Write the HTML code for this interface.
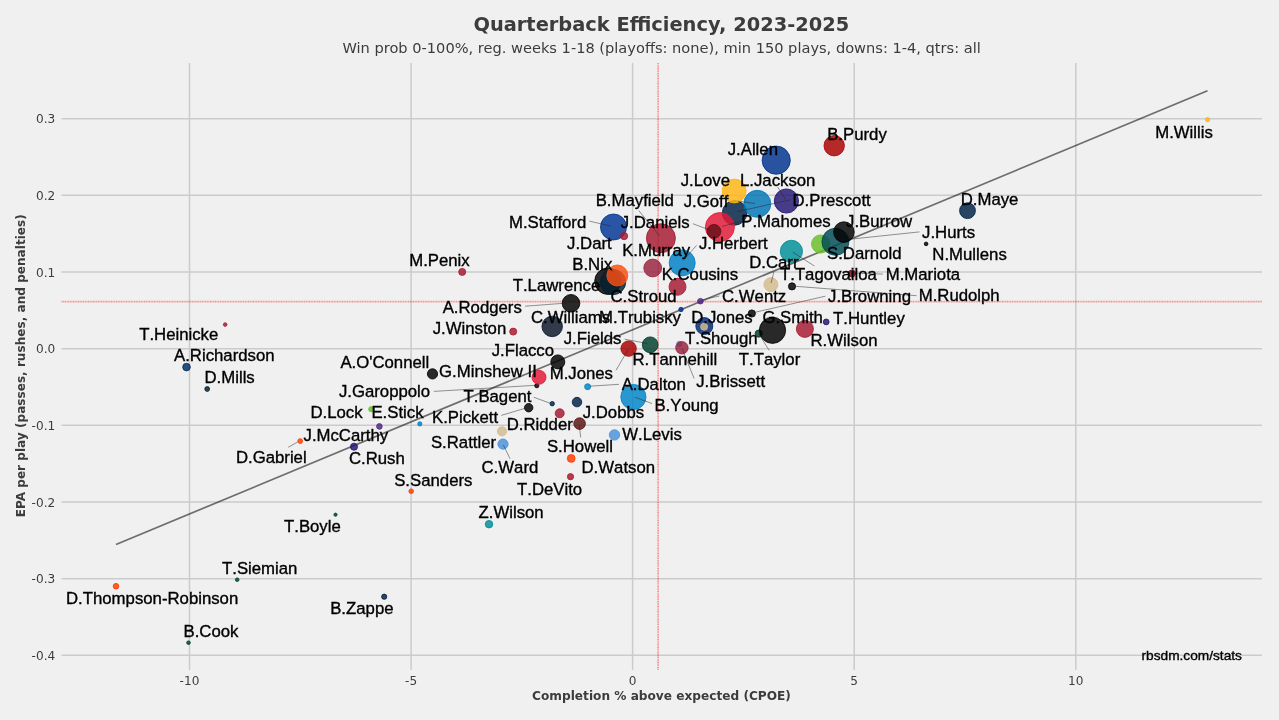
<!DOCTYPE html>
<html lang="en"><head><meta charset="utf-8"><title>Quarterback Efficiency, 2023-2025</title>
<style>html,body{margin:0;padding:0;background:#f0f0f0;overflow:hidden}svg{display:block}.t{font-family:"DejaVu Sans",sans-serif;fill:#3c3c3c}.l{font-family:"Liberation Sans",sans-serif;font-size:16.75px;fill:#000;stroke:#000;stroke-width:.35px;font-kerning:none}.g{stroke:#cbcbcb;stroke-width:1.5;fill:none}.c{stroke:#222;stroke-width:0.6;stroke-opacity:.8;fill:none}.r{stroke:#ff0000;stroke-width:1.7;stroke-opacity:.4;stroke-dasharray:1.1 0.55;fill:none}</style></head><body>
<svg width="1279" height="720" viewBox="0 0 1279 720">
<rect width="1279" height="720" fill="#f0f0f0"/>
<g class="g">
<line x1="189.5" y1="63.0" x2="189.5" y2="670.0"/>
<line x1="411.1" y1="63.0" x2="411.1" y2="670.0"/>
<line x1="632.6" y1="63.0" x2="632.6" y2="670.0"/>
<line x1="854.2" y1="63.0" x2="854.2" y2="670.0"/>
<line x1="1075.8" y1="63.0" x2="1075.8" y2="670.0"/>
<line x1="61.5" y1="655.35" x2="1262.0" y2="655.35"/>
<line x1="61.5" y1="578.68" x2="1262.0" y2="578.68"/>
<line x1="61.5" y1="502.01" x2="1262.0" y2="502.01"/>
<line x1="61.5" y1="425.35" x2="1262.0" y2="425.35"/>
<line x1="61.5" y1="348.68" x2="1262.0" y2="348.68"/>
<line x1="61.5" y1="272.01" x2="1262.0" y2="272.01"/>
<line x1="61.5" y1="195.35" x2="1262.0" y2="195.35"/>
<line x1="61.5" y1="118.68" x2="1262.0" y2="118.68"/>
</g>
<line class="r" x1="61.5" y1="301.6" x2="1262.0" y2="301.6"/>
<line class="r" x1="658.1" y1="63.0" x2="658.1" y2="670.0"/>
<g class="t" font-size="12.1" text-anchor="end">
<text x="55.2" y="659.8">-0.4</text>
<text x="55.2" y="583.2">-0.3</text>
<text x="55.2" y="506.5">-0.2</text>
<text x="55.2" y="429.8">-0.1</text>
<text x="55.2" y="353.2">0.0</text>
<text x="55.2" y="276.5">0.1</text>
<text x="55.2" y="199.8">0.2</text>
<text x="55.2" y="123.2">0.3</text>
</g>
<g class="t" font-size="12.1" text-anchor="middle">
<text x="189.5" y="685.2">-10</text>
<text x="411.1" y="685.2">-5</text>
<text x="632.6" y="685.2">0</text>
<text x="854.2" y="685.2">5</text>
<text x="1075.8" y="685.2">10</text>
</g>
<line x1="116" y1="544.5" x2="1207.5" y2="90.8" stroke="#000" stroke-opacity=".55" stroke-width="1.7"/>
<g fill-opacity=".83" stroke-opacity=".83" stroke-width="1">
<circle cx="1207.6" cy="119.7" r="2.20" fill="#FFB612" stroke="#FFB612"/>
<circle cx="225.2" cy="324.6" r="1.80" fill="#A71930" stroke="#A71930"/>
<circle cx="186.5" cy="367.1" r="3.80" fill="#002C5F" stroke="#002C5F"/>
<circle cx="207.2" cy="389.0" r="2.40" fill="#03202F" stroke="#03202F"/>
<circle cx="116.0" cy="586.2" r="2.80" fill="#FF3C00" stroke="#FF3C00"/>
<circle cx="188.5" cy="642.7" r="1.80" fill="#003F2D" stroke="#003F2D"/>
<circle cx="237.2" cy="579.7" r="1.80" fill="#003F2D" stroke="#003F2D"/>
<circle cx="335.5" cy="514.7" r="1.60" fill="#003F2D" stroke="#003F2D"/>
<circle cx="384.2" cy="596.7" r="2.60" fill="#002244" stroke="#002244"/>
<circle cx="411.2" cy="491.2" r="2.30" fill="#FF3C00" stroke="#FF3C00"/>
<circle cx="300.2" cy="441.1" r="2.40" fill="#FF3C00" stroke="#FF3C00"/>
<circle cx="354.0" cy="446.7" r="3.55" fill="#241773" stroke="#241773"/>
<circle cx="379.4" cy="426.4" r="2.80" fill="#4F2683" stroke="#4F2683"/>
<circle cx="371.3" cy="409.2" r="2.60" fill="#69BE28" stroke="#69BE28"/>
<circle cx="419.8" cy="423.9" r="2.10" fill="#0080C6" stroke="#0080C6"/>
<circle cx="432.5" cy="373.9" r="5.10" fill="#000000" stroke="#000000"/>
<circle cx="489.0" cy="524.2" r="3.75" fill="#008E97" stroke="#008E97"/>
<circle cx="502.0" cy="431.3" r="4.60" fill="#D3BC8D" stroke="#D3BC8D"/>
<circle cx="503.0" cy="444.1" r="5.10" fill="#4B92DB" stroke="#4B92DB"/>
<circle cx="614.5" cy="434.9" r="5.20" fill="#4B92DB" stroke="#4B92DB"/>
<circle cx="571.2" cy="458.4" r="3.90" fill="#FF3C00" stroke="#FF3C00"/>
<circle cx="570.5" cy="476.7" r="3.10" fill="#A71930" stroke="#A71930"/>
<circle cx="579.6" cy="423.6" r="5.80" fill="#5A1414" stroke="#5A1414"/>
<circle cx="559.7" cy="413.3" r="4.50" fill="#A71930" stroke="#A71930"/>
<circle cx="528.7" cy="407.7" r="4.20" fill="#000000" stroke="#000000"/>
<circle cx="552.2" cy="403.7" r="2.20" fill="#002244" stroke="#002244"/>
<circle cx="577.0" cy="402.1" r="4.75" fill="#002244" stroke="#002244"/>
<circle cx="587.6" cy="386.7" r="3.00" fill="#0085CA" stroke="#0085CA"/>
<circle cx="633.4" cy="397.0" r="12.60" fill="#0085CA" stroke="#0085CA"/>
<circle cx="536.8" cy="385.7" r="2.10" fill="#000000" stroke="#000000"/>
<circle cx="539.0" cy="377.3" r="7.00" fill="#E31837" stroke="#E31837"/>
<circle cx="557.8" cy="361.9" r="7.00" fill="#000000" stroke="#000000"/>
<circle cx="513.2" cy="331.6" r="3.50" fill="#A71930" stroke="#A71930"/>
<circle cx="552.2" cy="326.4" r="10.25" fill="#0B162A" stroke="#0B162A"/>
<circle cx="571.0" cy="303.3" r="8.80" fill="#000000" stroke="#000000"/>
<circle cx="462.2" cy="271.9" r="3.50" fill="#A71930" stroke="#A71930"/>
<circle cx="607.9" cy="281.2" r="13.20" fill="#000000" stroke="#000000"/>
<circle cx="613.0" cy="282.0" r="12.70" fill="#03202F" stroke="#03202F"/>
<circle cx="617.3" cy="275.5" r="10.50" fill="#FB4F14" stroke="#FB4F14"/>
<circle cx="613.5" cy="227.0" r="13.00" fill="#003594" stroke="#003594"/>
<circle cx="624.1" cy="236.1" r="3.60" fill="#A71930" stroke="#A71930"/>
<circle cx="660.9" cy="238.2" r="14.50" fill="#A71930" stroke="#A71930"/>
<circle cx="652.7" cy="268.0" r="8.90" fill="#97233F" stroke="#97233F"/>
<circle cx="682.2" cy="262.9" r="13.00" fill="#0080C6" stroke="#0080C6"/>
<circle cx="677.5" cy="286.8" r="8.50" fill="#A71930" stroke="#A71930"/>
<circle cx="628.6" cy="348.6" r="7.70" fill="#AA0000" stroke="#AA0000"/>
<circle cx="650.2" cy="344.8" r="7.90" fill="#003F2D" stroke="#003F2D"/>
<circle cx="679.3" cy="344.0" r="2.70" fill="#4B92DB" stroke="#4B92DB"/>
<circle cx="681.9" cy="347.8" r="6.20" fill="#97233F" stroke="#97233F"/>
<circle cx="681.0" cy="309.5" r="2.20" fill="#00338D" stroke="#00338D"/>
<circle cx="700.4" cy="301.2" r="2.80" fill="#4F2683" stroke="#4F2683"/>
<circle cx="704.3" cy="326.1" r="8.50" fill="#002870" stroke="#002870"/>
<circle cx="704.1" cy="326.7" r="3.50" fill="#D3BC8D" stroke="#D3BC8D"/>
<circle cx="751.8" cy="313.5" r="3.60" fill="#000000" stroke="#000000"/>
<circle cx="758.7" cy="333.6" r="3.60" fill="#003F2D" stroke="#003F2D"/>
<circle cx="772.5" cy="330.3" r="13.10" fill="#000000" stroke="#000000"/>
<circle cx="804.9" cy="328.9" r="8.50" fill="#A71930" stroke="#A71930"/>
<circle cx="826.2" cy="321.9" r="2.90" fill="#241773" stroke="#241773"/>
<circle cx="770.9" cy="284.6" r="7.00" fill="#D3BC8D" stroke="#D3BC8D"/>
<circle cx="792.0" cy="286.4" r="3.55" fill="#000000" stroke="#000000"/>
<circle cx="851.9" cy="273.5" r="3.50" fill="#68101A" stroke="#68101A"/>
<circle cx="926.1" cy="243.9" r="1.80" fill="#000000" stroke="#000000"/>
<circle cx="791.4" cy="251.4" r="11.10" fill="#008E97" stroke="#008E97"/>
<circle cx="820.6" cy="244.0" r="9.10" fill="#69BE28" stroke="#69BE28"/>
<circle cx="835.4" cy="241.8" r="13.50" fill="#004C54" stroke="#004C54"/>
<circle cx="843.9" cy="232.1" r="10.30" fill="#000000" stroke="#000000"/>
<circle cx="967.5" cy="210.7" r="7.90" fill="#002244" stroke="#002244"/>
<circle cx="734.6" cy="212.9" r="12.30" fill="#002244" stroke="#002244"/>
<circle cx="734.2" cy="191.0" r="11.90" fill="#FFB612" stroke="#FFB612"/>
<circle cx="757.3" cy="203.8" r="13.50" fill="#0076B6" stroke="#0076B6"/>
<circle cx="786.4" cy="201.0" r="12.10" fill="#241773" stroke="#241773"/>
<circle cx="719.9" cy="227.1" r="14.50" fill="#E31837" stroke="#E31837"/>
<circle cx="714.0" cy="231.3" r="6.90" fill="#68101A" stroke="#68101A"/>
<circle cx="776.2" cy="160.2" r="14.10" fill="#00338D" stroke="#00338D"/>
<circle cx="834.2" cy="145.7" r="10.20" fill="#AA0000" stroke="#AA0000"/>
</g>
<g class="c">
<line x1="589.3" y1="221.1" x2="610.5" y2="226.0"/>
<line x1="638.8" y1="210.6" x2="659.4" y2="235.7"/>
<line x1="692.8" y1="223.7" x2="711.0" y2="230.5"/>
<line x1="722.0" y1="226.4" x2="741.3" y2="221.4"/>
<line x1="737.0" y1="211.7" x2="790.0" y2="199.9"/>
<line x1="738.0" y1="201.2" x2="755.0" y2="203.5"/>
<line x1="777.7" y1="187.1" x2="785.5" y2="199.5"/>
<line x1="773.8" y1="272.0" x2="771.1" y2="283.0"/>
<line x1="702.0" y1="299.8" x2="719.5" y2="296.0"/>
<line x1="607.5" y1="266.5" x2="612.5" y2="271.2"/>
<line x1="696.6" y1="245.3" x2="683.0" y2="260.7"/>
<line x1="919.5" y1="231.9" x2="852.0" y2="239.0"/>
<line x1="792.8" y1="252.2" x2="814.4" y2="266.0"/>
<line x1="853.0" y1="273.2" x2="882.9" y2="274.1"/>
<line x1="795.6" y1="286.3" x2="916.7" y2="295.7"/>
<line x1="754.1" y1="312.5" x2="825.4" y2="296.2"/>
<line x1="525.0" y1="306.2" x2="567.5" y2="303.0"/>
<line x1="624.7" y1="339.2" x2="647.2" y2="343.5"/>
<line x1="616.0" y1="370.3" x2="628.0" y2="349.7"/>
<line x1="590.0" y1="386.2" x2="619.0" y2="384.3"/>
<line x1="635.0" y1="397.3" x2="652.0" y2="403.5"/>
<line x1="682.0" y1="348.5" x2="694.1" y2="378.5"/>
<line x1="758.8" y1="334.0" x2="769.2" y2="350.3"/>
<line x1="433.8" y1="391.4" x2="535.5" y2="385.3"/>
<line x1="533.6" y1="397.2" x2="550.0" y2="403.2"/>
<line x1="501.3" y1="415.4" x2="524.8" y2="408.4"/>
<line x1="579.2" y1="424.7" x2="580.7" y2="437.5"/>
<line x1="503.4" y1="445.0" x2="510.0" y2="458.7"/>
<line x1="288.2" y1="447.3" x2="297.6" y2="442.0"/>
</g>
<g class="l">
<text x="1155.2" y="137.5">M.Willis</text>
<text x="827.2" y="139.7">B.Purdy</text>
<text x="727.7" y="155.0">J.Allen</text>
<text x="680.7" y="185.7">J.Love</text>
<text x="740.0" y="185.7">L.Jackson</text>
<text x="595.7" y="206.3">B.Mayfield</text>
<text x="683.7" y="206.8">J.Goff</text>
<text x="792.5" y="206.0">D.Prescott</text>
<text x="960.7" y="205.0">D.Maye</text>
<text x="509.0" y="227.5">M.Stafford</text>
<text x="620.7" y="227.8">J.Daniels</text>
<text x="741.3" y="227.0">P.Mahomes</text>
<text x="846.0" y="226.8">J.Burrow</text>
<text x="922.0" y="238.0">J.Hurts</text>
<text x="567.0" y="248.8">J.Dart</text>
<text x="698.9" y="248.5">J.Herbert</text>
<text x="622.2" y="256.1">K.Murray</text>
<text x="827.0" y="259.0">S.Darnold</text>
<text x="932.3" y="259.7">N.Mullens</text>
<text x="409.2" y="265.5">M.Penix</text>
<text x="572.3" y="269.5">B.Nix</text>
<text x="749.2" y="268.4">D.Carr</text>
<text x="661.7" y="280.4">K.Cousins</text>
<text x="780.0" y="280.3">T.Tagovailoa</text>
<text x="885.7" y="280.3">M.Mariota</text>
<text x="512.7" y="291.3">T.Lawrence</text>
<text x="610.5" y="301.6">C.Stroud</text>
<text x="722.0" y="302.0">C.Wentz</text>
<text x="828.1" y="301.6">J.Browning</text>
<text x="918.7" y="301.3">M.Rudolph</text>
<text x="442.7" y="312.5">A.Rodgers</text>
<text x="531.0" y="322.5">C.Williams</text>
<text x="599.1" y="322.7">M.Trubisky</text>
<text x="691.2" y="322.8">D.Jones</text>
<text x="762.4" y="322.8">G.Smith</text>
<text x="833.1" y="324.0">T.Huntley</text>
<text x="432.7" y="333.8">J.Winston</text>
<text x="139.2" y="340.0">T.Heinicke</text>
<text x="563.7" y="343.6">J.Fields</text>
<text x="685.0" y="343.5">T.Shough</text>
<text x="810.5" y="345.7">R.Wilson</text>
<text x="491.7" y="355.5">J.Flacco</text>
<text x="174.0" y="361.2">A.Richardson</text>
<text x="632.5" y="365.0">R.Tannehill</text>
<text x="738.8" y="365.0">T.Taylor</text>
<text x="340.4" y="368.3">A.O&#39;Connell</text>
<text x="439.1" y="377.0">G.Minshew II</text>
<text x="549.7" y="378.6">M.Jones</text>
<text x="204.5" y="383.2">D.Mills</text>
<text x="696.2" y="386.6">J.Brissett</text>
<text x="621.7" y="390.4">A.Dalton</text>
<text x="338.9" y="397.0">J.Garoppolo</text>
<text x="463.5" y="401.6">T.Bagent</text>
<text x="654.4" y="411.0">B.Young</text>
<text x="310.4" y="418.2">D.Lock</text>
<text x="371.4" y="418.2">E.Stick</text>
<text x="582.7" y="418.4">J.Dobbs</text>
<text x="432.0" y="422.9">K.Pickett</text>
<text x="506.7" y="430.4">D.Ridder</text>
<text x="622.2" y="439.5">W.Levis</text>
<text x="303.5" y="441.1">J.McCarthy</text>
<text x="430.9" y="448.4">S.Rattler</text>
<text x="546.9" y="451.6">S.Howell</text>
<text x="235.9" y="462.5">D.Gabriel</text>
<text x="348.9" y="464.0">C.Rush</text>
<text x="481.5" y="472.5">C.Ward</text>
<text x="581.5" y="473.2">D.Watson</text>
<text x="394.2" y="485.7">S.Sanders</text>
<text x="517.0" y="494.5">T.DeVito</text>
<text x="478.5" y="518.3">Z.Wilson</text>
<text x="284.0" y="531.8">T.Boyle</text>
<text x="222.0" y="574.0">T.Siemian</text>
<text x="66.0" y="603.6">D.Thompson-Robinson</text>
<text x="330.2" y="613.8">B.Zappe</text>
<text x="183.5" y="637.0">B.Cook</text>
</g>
<text class="l" style="font-size:13.7px" x="1141.5" y="660">rbsdm.com/stats</text>
<text class="t" x="661.3" y="30.8" font-size="19.4" font-weight="bold" text-anchor="middle">Quarterback Efficiency, 2023-2025</text>
<text class="t" x="661.6" y="52.7" font-size="14.6" text-anchor="middle">Win prob 0-100%, reg. weeks 1-18 (playoffs: none), min 150 plays, downs: 1-4, qtrs: all</text>
<text class="t" x="661.5" y="700" font-size="12.15" font-weight="bold" text-anchor="middle">Completion % above expected (CPOE)</text>
<text class="t" transform="translate(25.3 365.8) rotate(-90)" font-size="12.1" font-weight="bold" text-anchor="middle">EPA per play (passes, rushes, and penalties)</text>
</svg></body></html>
